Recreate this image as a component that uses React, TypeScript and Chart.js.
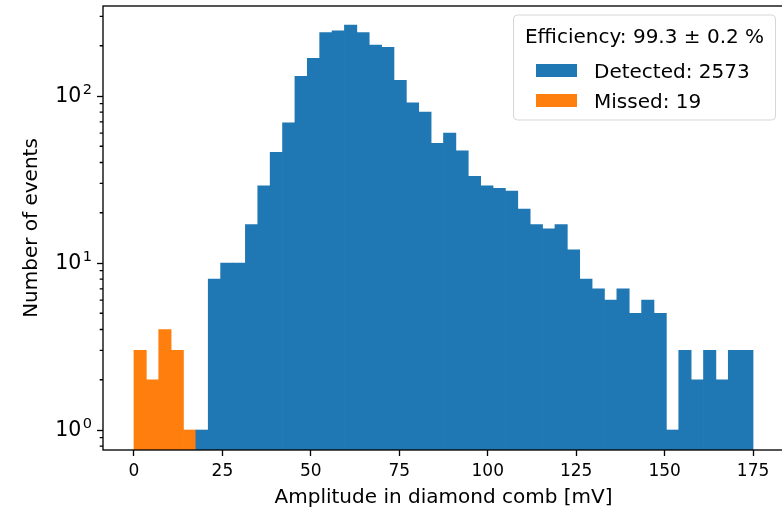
import React, { useEffect, useRef } from 'react';
import { Chart, registerables } from 'chart.js';

Chart.register(...registerables);

// ---- data ----
const BIN_WIDTH = 3.5; // mV
const missedFirstBin = 0;
const missedCounts = [3, 2, 4, 3, 1];
const detectedFirstBin = 5;
const detectedCounts = [
  1, 8, 10, 10, 17, 29, 46, 69, 131, 168,
  240, 246, 266, 240, 202, 196, 124, 91, 80, 52,
  60, 47, 33, 29, 28, 27, 21, 17, 16, 17,
  12, 8, 7, 6, 7, 5, 6, 5, 1, 3,
  2, 3, 2, 3, 3,
];
const xTickValues = [0, 25, 50, 75, 100, 125, 150, 175];
const yMajorTicks = [1, 10, 100];
const yMajorBase = '10';
const yMajorExponents = ['0', '1', '2'];
const yMinorTicks = [0.8, 0.9, 2, 3, 4, 5, 6, 7, 8, 9, 20, 30, 40, 50, 60, 70, 80, 90, 200, 300];
const legendTitle = 'Efficiency: 99.3 ± 0.2 %';
const seriesLabels = ['Detected: 2573', 'Missed: 19'];
const seriesColors = ['#1f77b4', '#ff7f0e'];
const xAxisTitle = 'Amplitude in diamond comb [mV]';
const yAxisTitle = 'Number of events';
const X_MIN = -8.75;
const X_MAX = 183.75;
const Y_MIN = 0.759;
const Y_MAX = 346;

const FONT = 'DejaVu Sans';

const toPoints = (first: number, counts: number[]) =>
  counts.map((c, i) => ({ x: (first + i + 0.5) * BIN_WIDTH, y: c }));

const framePlugin = {
  id: 'frameAndLegend',
  afterDraw(chart: any) {
    const { ctx } = chart;
    const { left, right, top, bottom } = chart.chartArea;
    const ys = chart.scales.y;
    ctx.save();
    ctx.strokeStyle = '#000';
    ctx.lineWidth = 1.33;
    ctx.beginPath();
    yMinorTicks.forEach((v) => {
      const py = ys.getPixelForValue(v);
      ctx.moveTo(left - 3.3, py);
      ctx.lineTo(left, py);
    });
    ctx.stroke();
    ctx.strokeRect(left, top, right - left, bottom - top);

    // y tick labels with superscript exponents
    ctx.fillStyle = '#000';
    yMajorTicks.forEach((v, i) => {
      const py = ys.getPixelForValue(v);
      const xr = left - 11;
      ctx.font = `14.5px "${FONT}"`;
      ctx.textAlign = 'right';
      ctx.textBaseline = 'alphabetic';
      const ew = ctx.measureText(yMajorExponents[i]).width;
      ctx.fillText(yMajorExponents[i], xr, py - 2);
      ctx.font = `20.5px "${FONT}"`;
      ctx.textBaseline = 'middle';
      ctx.fillText(yMajorBase, xr - ew - 1.5, py + 0.5);
    });

    // legend
    const bx = 513.5, by = 15, bw = 262, bh = 105;
    ctx.beginPath();
    (ctx as any).roundRect(bx, by, bw, bh, 4);
    ctx.fillStyle = 'rgba(255,255,255,0.8)';
    ctx.fill();
    ctx.strokeStyle = 'rgba(204,204,204,0.8)';
    ctx.lineWidth = 1;
    ctx.stroke();

    ctx.fillStyle = '#000';
    ctx.font = `20px "${FONT}"`;
    ctx.textBaseline = 'alphabetic';
    ctx.textAlign = 'center';
    ctx.fillText(legendTitle, bx + bw / 2, 42.5);

    const rows = [70.5, 100.5];
    ctx.textAlign = 'left';
    seriesLabels.forEach((lab, i) => {
      ctx.fillStyle = seriesColors[i];
      ctx.fillRect(536, rows[i] - 6.5, 41, 13);
      ctx.fillStyle = '#000';
      ctx.fillText(lab, 594, rows[i] + 7);
    });
    ctx.restore();
  },
};

export default function App() {
  const ref = useRef<HTMLCanvasElement | null>(null);

  useEffect(() => {
    if (!ref.current) return;
    Chart.defaults.font.family = FONT;
    Chart.defaults.color = '#000';
    const chart = new Chart(ref.current, {
      type: 'bar',
      data: {
        datasets: [
          {
            label: seriesLabels[0],
            data: toPoints(detectedFirstBin, detectedCounts) as any,
            backgroundColor: seriesColors[0],
            borderWidth: 0,
            barPercentage: 1,
            categoryPercentage: 1,
            grouped: false,
          } as any,
          {
            label: seriesLabels[1],
            data: toPoints(missedFirstBin, missedCounts) as any,
            backgroundColor: seriesColors[1],
            borderWidth: 0,
            barPercentage: 1,
            categoryPercentage: 1,
            grouped: false,
          } as any,
        ],
      },
      options: {
        animation: false,
        responsive: false,
        maintainAspectRatio: false,
        layout: { padding: { left: 0, top: 6, right: 16, bottom: 0 } },
        plugins: { legend: { display: false }, tooltip: { enabled: false } },
        scales: {
          x: {
            type: 'linear',
            min: X_MIN,
            max: X_MAX,
            offset: false,
            afterBuildTicks: (scale: any) => {
              scale.ticks = xTickValues.map((v) => ({ value: v }));
            },
            afterFit: (scale: any) => {
              scale.height = 62;
            },
            grid: {
              display: true,
              offset: false,
              drawOnChartArea: false,
              drawTicks: true,
              tickLength: 6,
              tickWidth: 1.33,
              tickColor: '#000',
            },
            border: { display: false },
            ticks: {
              font: { size: 17 },
              color: '#000',
              padding: 5,
              maxRotation: 0,
              autoSkip: false,
              callback: (v: any) => String(v),
            },
            title: {
              display: true,
              text: xAxisTitle,
              font: { size: 20 },
              color: '#000',
              padding: { top: 0, bottom: 2 },
            },
          },
          y: {
            type: 'logarithmic',
            min: Y_MIN,
            max: Y_MAX,
            afterBuildTicks: (scale: any) => {
              scale.ticks = yMajorTicks.map((v) => ({ value: v }));
            },
            afterFit: (scale: any) => {
              scale.width = 103;
            },
            grid: {
              display: true,
              drawOnChartArea: false,
              drawTicks: true,
              tickLength: 6,
              tickWidth: 1.33,
              tickColor: '#000',
            },
            border: { display: false },
            ticks: {
              display: false,
              autoSkip: false,
            },
            title: {
              display: true,
              text: yAxisTitle,
              font: { size: 20 },
              color: '#000',
              padding: { top: 20, bottom: 0 },
            },
          },
        },
      } as any,
      plugins: [framePlugin],
    });
    return () => chart.destroy();
  }, []);

  return (
    <div
      style={{
        position: 'fixed',
        left: 0,
        top: 0,
        width: 782,
        height: 512,
        overflow: 'hidden',
        background: '#fff',
      }}
    >
      <canvas ref={ref} width={800} height={512} style={{ width: 800, height: 512, display: 'block' }} />
    </div>
  );
}
